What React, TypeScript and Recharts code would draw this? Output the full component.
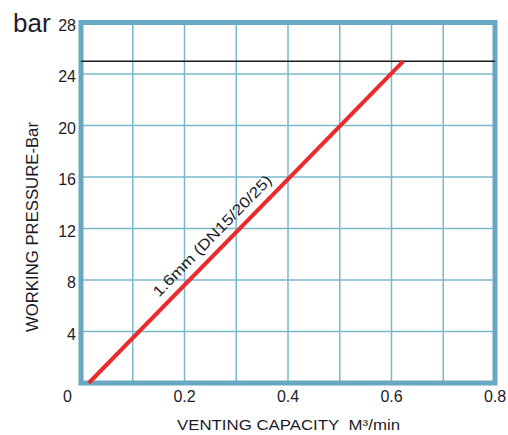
import React from "react";
import {
  LineChart,
  Line,
  XAxis,
  YAxis,
  CartesianGrid,
  ReferenceLine,
  ReferenceArea,
  ReferenceDot,
} from "recharts";

const xTicks = [0, 0.1, 0.2, 0.3, 0.4, 0.5, 0.6, 0.7, 0.8];
const xLabelTicks = [0.2, 0.4, 0.6, 0.8];
const yTicks = [0, 4, 8, 12, 16, 20, 24, 28];
const lineX = [0.015, 0.623];
const lineY = [0, 25];
const limitPressure = 25;
const seriesLabel = "1.6mm (DN15/20/25)";
const labelAt = { x: 0.253, y: 11.45 };

const data = lineX.map((x, i) => ({ x, y: lineY[i] }));

const FONT = "'Liberation Sans', Arial, sans-serif";
const TXT = "#1c1c28";
const BORDER = "#68a8c2";
const GRID = "#7cb8cc";

const XTick = (props: any) => {
  const { x, payload } = props;
  const v = payload.value;
  if (!xLabelTicks.some((t) => Math.abs(t - v) < 1e-6)) return null;
  return (
    <text x={x} y={396} textAnchor="middle" dominantBaseline="central" fontSize={16} fontFamily={FONT} fill={TXT}>
      {v.toFixed(1)}
    </text>
  );
};

const YTick = (props: any) => {
  const { y, payload } = props;
  const v = payload.value;
  if (v === 0) {
    return (
      <text x={72} y={396} textAnchor="end" dominantBaseline="central" fontSize={16} fontFamily={FONT} fill={TXT}>
        0
      </text>
    );
  }
  return (
    <text x={76} y={y + 2.5} textAnchor="end" dominantBaseline="central" fontSize={16} fontFamily={FONT} fill={TXT}>
      {v}
    </text>
  );
};

const DiagLabel = (props: any) => {
  const vb = props.viewBox || {};
  const cx = (vb.x ?? 0) + (vb.width ?? 0) / 2;
  const cy = (vb.y ?? 0) + (vb.height ?? 0) / 2;
  return (
    <text
      x={cx}
      y={cy}
      transform={`rotate(-45.7 ${cx} ${cy})`}
      textAnchor="middle"
      dominantBaseline="central"
      fontSize={15}
      fontFamily={FONT}
      fill={TXT}
      textLength={163}
      lengthAdjust="spacingAndGlyphs"
    >
      {seriesLabel}
    </text>
  );
};

export default function App() {
  return (
    <div style={{ position: "absolute", left: 0, top: 0, width: 508, height: 435, background: "#fff" }}>
      <LineChart width={508} height={435} data={data} margin={{ top: 22.5, right: 13, bottom: 0, left: 0 }}>
        <CartesianGrid stroke={GRID} strokeWidth={1.5} />
        <XAxis
          dataKey="x"
          type="number"
          domain={[0, 0.8]}
          ticks={xTicks}
          interval={0}
          height={52}
          axisLine={false}
          tickLine={false}
          tick={<XTick />}
        />
        <YAxis
          dataKey="y"
          type="number"
          domain={[0, 28]}
          ticks={yTicks}
          interval={0}
          width={81}
          axisLine={false}
          tickLine={false}
          tick={<YTick />}
        />
        <ReferenceArea
          x1={0}
          x2={0.8}
          y1={0}
          y2={28}
          fill="none"
          fillOpacity={0}
          stroke={BORDER}
          strokeWidth={5}
          ifOverflow="visible"
        />
        <ReferenceLine y={limitPressure} stroke="#1a1a1a" strokeWidth={1.5} />
        <Line
          dataKey="y"
          stroke="#ea2a2c"
          strokeWidth={4}
          dot={false}
          isAnimationActive={false}
        />
        <ReferenceDot x={labelAt.x} y={labelAt.y} r={0} fill="none" stroke="none" label={<DiagLabel />} />
      </LineChart>
      <svg width={508} height={435} style={{ position: "absolute", left: 0, top: 0, pointerEvents: "none" }}>
        <text x={13} y={32} fontSize={26} fontFamily={FONT} fill={TXT}>
          bar
        </text>
        <text
          x={288.5}
          y={430}
          textAnchor="middle"
          fontSize={14}
          fontFamily={FONT}
          fill={TXT}
          textLength={223}
          lengthAdjust="spacingAndGlyphs"
        >
          {"VENTING CAPACITY\u00A0\u00A0M\u00B3/min"}
        </text>
        <text
          x={38}
          y={227}
          transform="rotate(-90 38 227)"
          textAnchor="middle"
          fontSize={17}
          fontFamily={FONT}
          fill={TXT}
          textLength={210}
          lengthAdjust="spacingAndGlyphs"
        >
          WORKING PRESSURE-Bar
        </text>
      </svg>
    </div>
  );
}
